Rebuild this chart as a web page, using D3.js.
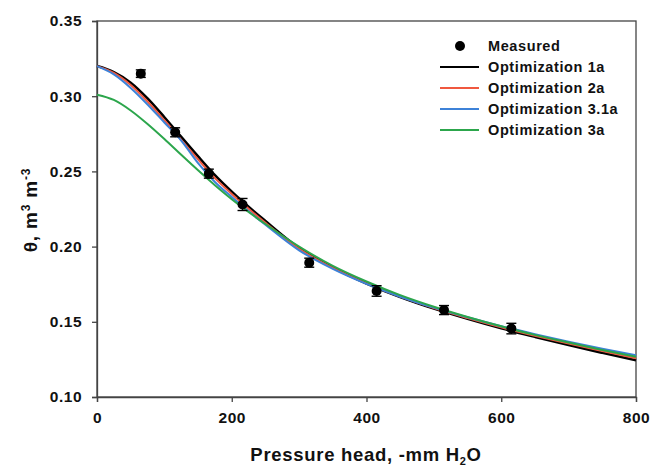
<!DOCTYPE html>
<html><head><meta charset="utf-8">
<script src="https://cdn.jsdelivr.net/npm/d3@7"></script>
<style>body{margin:0;background:#fff}svg{display:block}text{font-family:"Liberation Sans",Arial,sans-serif;font-weight:bold;fill:#111}</style>
</head><body>
<svg id="chart" width="650" height="468"></svg>
<script>
const xTicks = [0, 200, 400, 600, 800];
const yTicks = [0.10, 0.15, 0.20, 0.25, 0.30, 0.35];

const measuredH = [65, 116, 166, 216, 315, 415, 515, 615];
const measuredTheta = [0.3150, 0.2760, 0.2485, 0.2280, 0.1893, 0.1705, 0.1578, 0.1455];
const measuredErr = [0.0025, 0.0030, 0.0030, 0.0040, 0.0030, 0.0035, 0.0030, 0.0035];

const curveH = [0, 25, 50, 75, 100, 125, 150, 175, 200, 250, 300, 350, 400, 450, 500, 550, 600, 650, 700, 750, 800];
const opt1a  = [0.320, 0.316, 0.309, 0.2985, 0.286, 0.273, 0.260, 0.2475, 0.2365, 0.2170, 0.1990, 0.1860, 0.1755, 0.1665, 0.1588, 0.1520, 0.1457, 0.1400, 0.1345, 0.1294, 0.1245];
const opt2a  = [0.320, 0.3155, 0.3075, 0.2965, 0.284, 0.271, 0.258, 0.2455, 0.2350, 0.2158, 0.1985, 0.1858, 0.1755, 0.1667, 0.1591, 0.1525, 0.1463, 0.1407, 0.1355, 0.1305, 0.1258];
const opt31a = [0.320, 0.3145, 0.3055, 0.2945, 0.2825, 0.2705, 0.2555, 0.2430, 0.2330, 0.2145, 0.1975, 0.1852, 0.1752, 0.1667, 0.1594, 0.1530, 0.1471, 0.1418, 0.1368, 0.1321, 0.1277];
const opt3a  = [0.301, 0.2975, 0.2905, 0.2815, 0.2715, 0.2610, 0.2507, 0.2408, 0.2315, 0.2150, 0.2000, 0.1872, 0.1768, 0.1677, 0.1600, 0.1532, 0.1470, 0.1413, 0.1362, 0.1313, 0.1267];

const seriesNames = ["Optimization 1a", "Optimization 2a", "Optimization 3.1a", "Optimization 3a"];
const seriesColors = ["#000000", "#f0583f", "#3d82d8", "#2ca64c"];
const seriesValues = [opt1a, opt2a, opt31a, opt3a];

const svg = d3.select("#chart");
const L = 97, R = 636, T = 21, B = 397;
const x = d3.scaleLinear().domain([0, 800]).range([L, R]);
const y = d3.scaleLinear().domain([0.10, 0.35]).range([B, T]);

svg.append("rect").attr("x", L).attr("y", T).attr("width", R - L).attr("height", B - T)
  .attr("fill", "none").attr("stroke", "#444").attr("stroke-width", 1.3);

const xAxis = svg.append("g").attr("transform", `translate(0,${B})`)
  .call(d3.axisBottom(x).tickValues(xTicks).tickSize(5).tickPadding(10).tickFormat(d3.format("d")));
const yAxis = svg.append("g").attr("transform", `translate(${L},0)`)
  .call(d3.axisLeft(y).tickValues(yTicks).tickSize(5).tickPadding(10).tickFormat(d3.format(".2f")));
[xAxis, yAxis].forEach(a => {
  a.select(".domain").attr("stroke", "#444").attr("stroke-width", 1.3);
  a.selectAll(".tick line").attr("stroke", "#444").attr("stroke-width", 1.3);
  a.selectAll("text").style("font-size", "15.5px").style("letter-spacing", "0.5px")
    .style("font-family", '"Liberation Sans",Arial,sans-serif').style("font-weight", "bold").attr("fill", "#111");
});

const line = d3.line().x(d => x(d[0])).y(d => y(d[1])).curve(d3.curveMonotoneX);
seriesValues.forEach((vals, i) => {
  svg.append("path").datum(curveH.map((h, j) => [h, vals[j]]))
    .attr("d", line).attr("fill", "none").attr("stroke", seriesColors[i])
    .attr("stroke-width", i === 0 ? 2.6 : 2);
});

const pts = measuredH.map((h, i) => ({h, t: measuredTheta[i], e: measuredErr[i]}));
const eb = svg.append("g").attr("stroke", "#000").attr("stroke-width", 1.4);
pts.forEach(p => {
  eb.append("line").attr("x1", x(p.h)).attr("x2", x(p.h)).attr("y1", y(p.t - p.e)).attr("y2", y(p.t + p.e));
  [p.t - p.e, p.t + p.e].forEach(v => eb.append("line").attr("x1", x(p.h) - 5).attr("x2", x(p.h) + 5).attr("y1", y(v)).attr("y2", y(v)));
});
svg.append("g").selectAll("circle").data(pts).join("circle")
  .attr("cx", d => x(d.h)).attr("cy", d => y(d.t)).attr("r", 5).attr("fill", "#000");

const lg = svg.append("g");
const rowY = [46, 67, 88, 109, 130];
const lgStyle = s => s.style("font-size", "14.5px").style("letter-spacing", "0.6px");
lg.append("circle").attr("cx", 460).attr("cy", rowY[0]).attr("r", 5).attr("fill", "#000");
lgStyle(lg.append("text").attr("x", 488).attr("y", rowY[0] + 5)).text("Measured");
seriesNames.forEach((n, i) => {
  lg.append("line").attr("x1", 440).attr("x2", 479).attr("y1", rowY[i + 1]).attr("y2", rowY[i + 1])
    .attr("stroke", seriesColors[i]).attr("stroke-width", 2);
  lgStyle(lg.append("text").attr("x", 488).attr("y", rowY[i + 1] + 5)).text(n);
});

const xt = svg.append("text").attr("x", 366).attr("y", 461).attr("text-anchor", "middle")
  .style("font-size", "18.5px").style("letter-spacing", "0.7px");
xt.append("tspan").text("Pressure head, -mm H");
xt.append("tspan").text("2").style("font-size", "11px").attr("dy", 4);
xt.append("tspan").text("O").attr("dy", -4);

const yt = svg.append("text").attr("transform", "translate(37,210) rotate(-90)").attr("text-anchor", "middle")
  .style("font-size", "19px").style("letter-spacing", "0.8px");
yt.append("tspan").text("θ, m");
yt.append("tspan").text("3").style("font-size", "12px").attr("dy", -7);
yt.append("tspan").text(" m").attr("dy", 7);
yt.append("tspan").text("-3").style("font-size", "12px").attr("dy", -7);
</script>
</body></html>
